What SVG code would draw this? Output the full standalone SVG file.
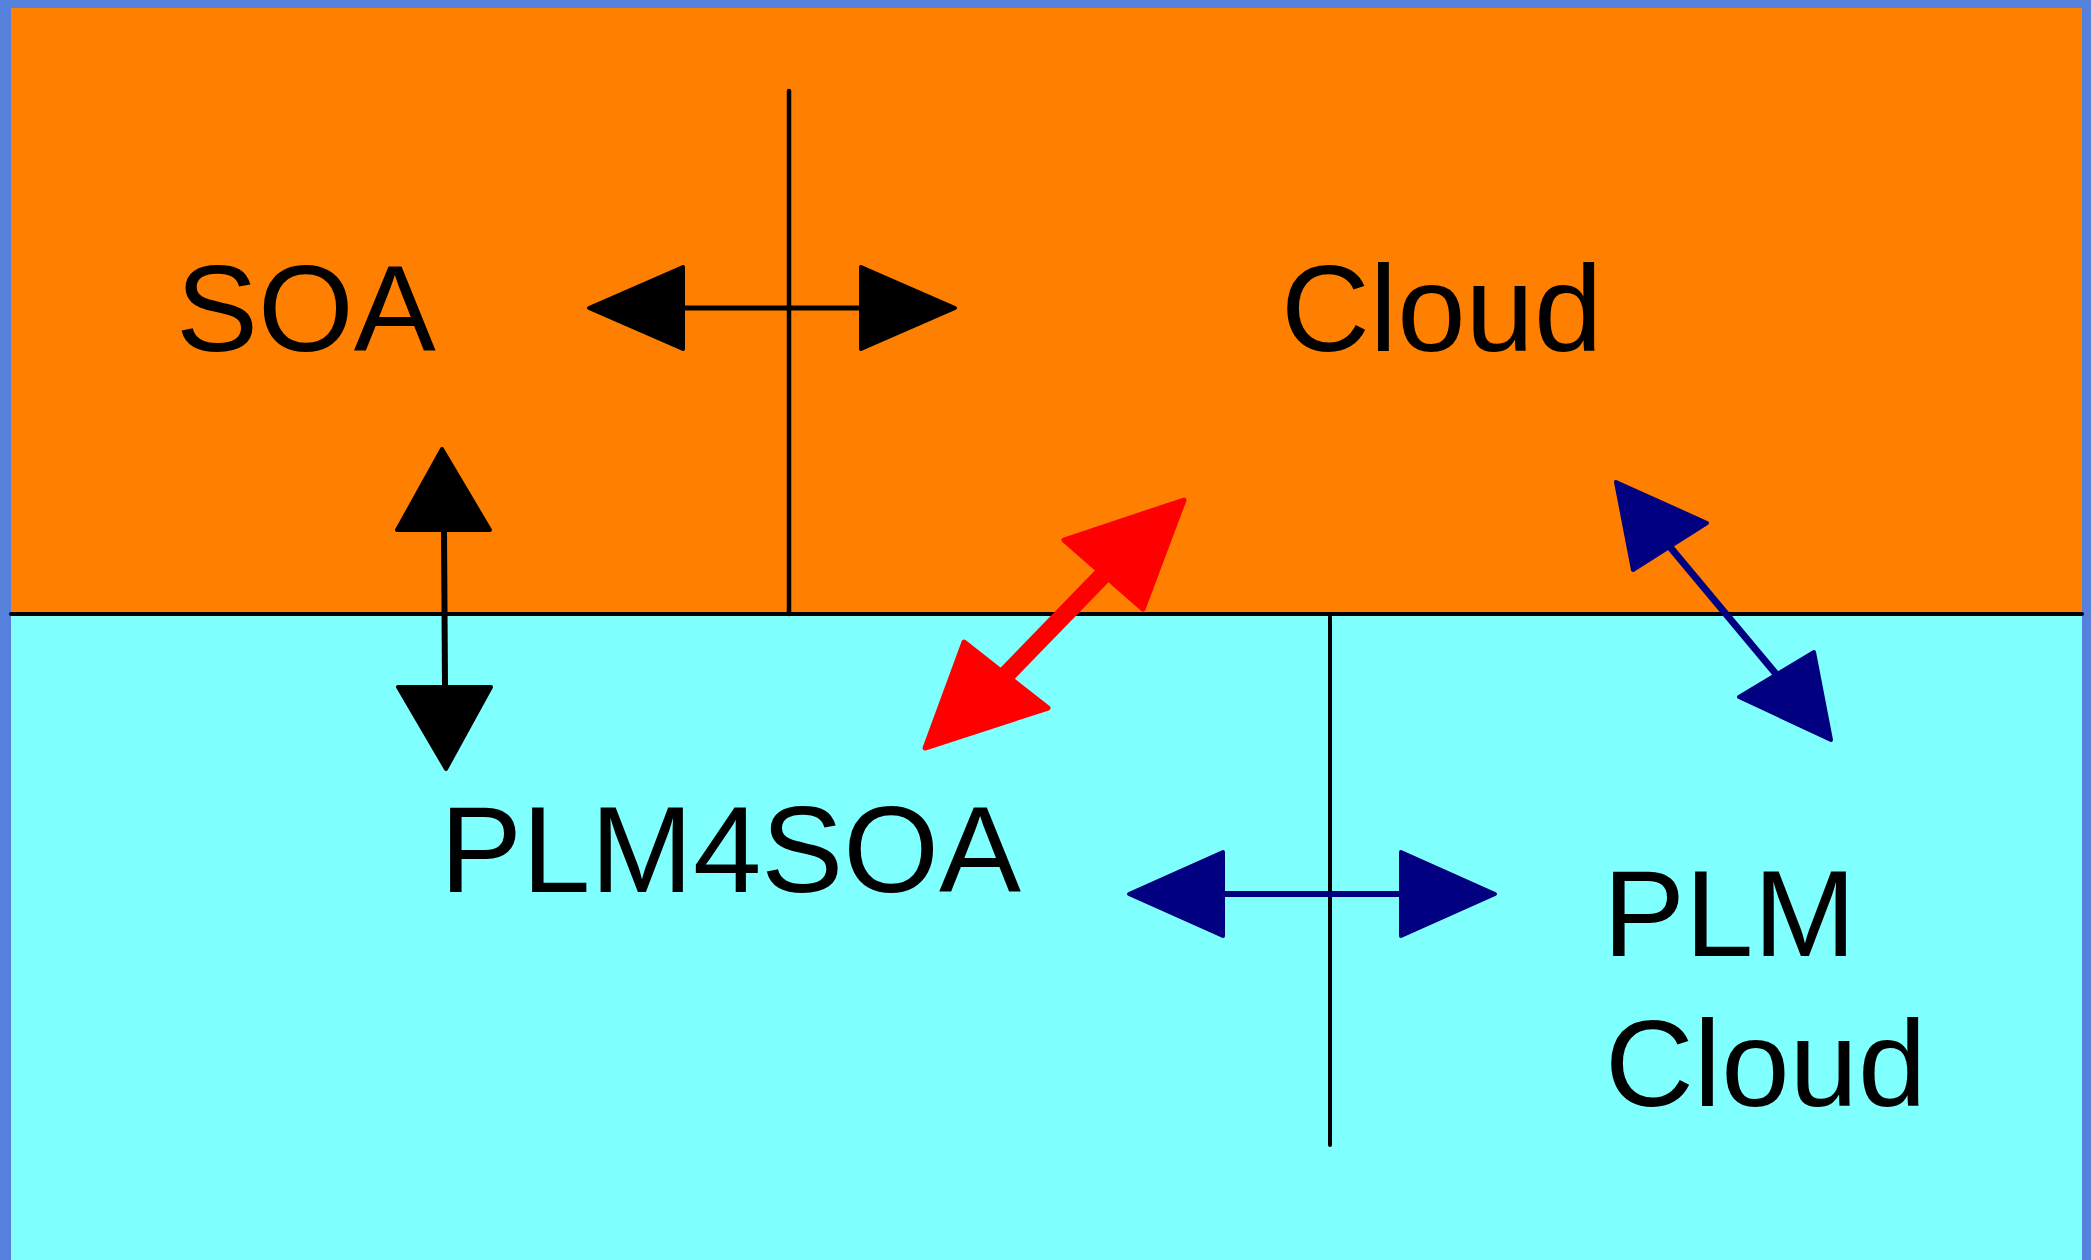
<svg xmlns="http://www.w3.org/2000/svg" width="2091" height="1260" viewBox="0 0 2091 1260">
<style>
.lbl{font-family:"Liberation Sans",Arial,sans-serif;font-size:123px;fill:#000}
.div{stroke:#000;stroke-linecap:round;fill:none}
.hb{fill:#000;stroke:#000;stroke-width:4;stroke-linejoin:round}
.hn{fill:#000080;stroke:#000080;stroke-width:4;stroke-linejoin:round}
.hr{fill:#ff0000;stroke:#ff0000;stroke-width:5;stroke-linejoin:round}
</style>
<rect width="2091" height="1260" fill="#5581dd"/>
<rect x="11" y="8" width="2071" height="606" fill="#ff8000"/>
<rect x="11" y="614" width="2071" height="646" fill="#80ffff"/>
<g id="dividers">
<line class="div" x1="11" y1="614" x2="2082" y2="614" stroke-width="4"/>
<line class="div" x1="789" y1="91" x2="789" y2="614" stroke-width="4.5"/>
<line class="div" x1="1330" y1="617" x2="1330" y2="1145" stroke-width="4"/>
</g>
<g id="node-soa"><text class="lbl" x="176" y="351">SOA</text></g>
<g id="node-cloud"><text class="lbl" x="1281" y="351">Cloud</text></g>
<g id="node-plm4soa"><text class="lbl" x="440" y="892">PLM4SOA</text></g>
<g id="node-plmcloud"><text class="lbl" x="1603" y="956">PLM</text><text class="lbl" x="1605" y="1106">Cloud</text></g>
<g id="connectors">
<line x1="683" y1="308" x2="861" y2="308" stroke="#000" stroke-width="5"/>
<polygon class="hb" points="589,308 683,267 683,349"/>
<polygon class="hb" points="955,308 861,267 861,349"/>
<line x1="444" y1="530" x2="445" y2="687" stroke="#000" stroke-width="6"/>
<polygon class="hb" points="442,449 397,530 490,530"/>
<polygon class="hb" points="446,769 398,687 491,687"/>
<line x1="1006" y1="675" x2="1103" y2="575" stroke="#ff0000" stroke-width="18"/>
<polygon class="hr" points="1184,500 1064,540 1143,609"/>
<polygon class="hr" points="925,748 964,642 1048,708"/>
<line x1="1670" y1="547" x2="1776" y2="674" stroke="#000080" stroke-width="7"/>
<polygon class="hn" points="1616,482 1707,523 1633,570"/>
<polygon class="hn" points="1831,740 1814,652 1739,697"/>
<line x1="1223" y1="894" x2="1401" y2="894" stroke="#000080" stroke-width="6"/>
<polygon class="hn" points="1129,894 1223,852 1223,936"/>
<polygon class="hn" points="1495,894 1401,852 1401,936"/>
</g>
</svg>
